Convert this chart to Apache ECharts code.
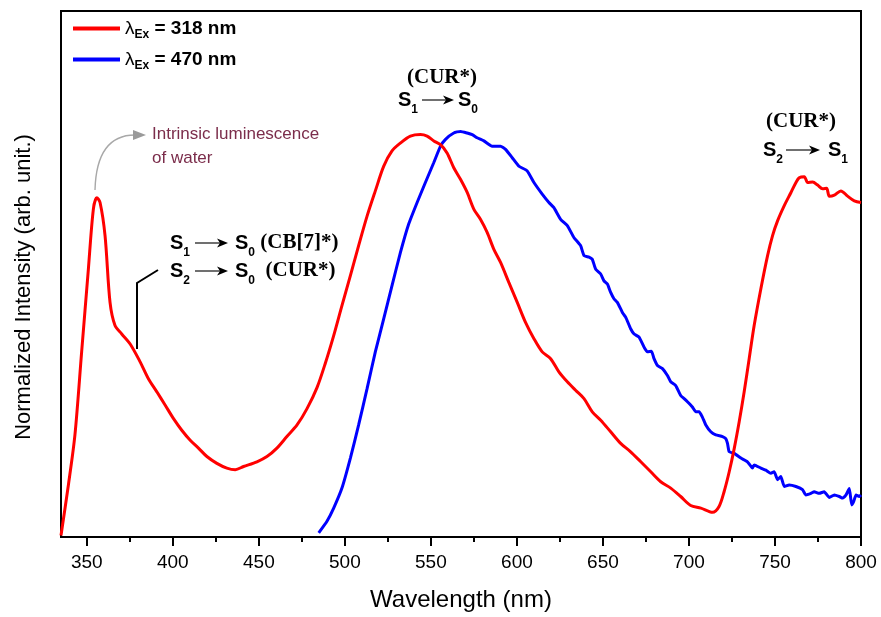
<!DOCTYPE html>
<html><head><meta charset="utf-8">
<script src="https://cdn.jsdelivr.net/npm/echarts@6/dist/echarts.min.js"></script>
<style>html,body{margin:0;padding:0;background:#fff}#c{width:881px;height:617px}</style>
</head><body><div id="c"></div>
<script>
// ---- data ----
const redWavelength = [335, 339.3, 343.1, 347.0, 350.9, 353.8, 355.8, 357.7, 360.6, 363.5,
  366.4, 370.3, 375.2, 381.0, 385.8, 390.7, 395.5, 400.4, 405.2, 410.1,
  414.9, 419.8, 425.6, 431.4, 436.3, 441.1, 448.9, 454.7, 460.5, 466.3,
  472.2, 478.0, 483.8, 488.6, 493.5, 498.3, 503.2, 508.0, 512.9, 517.7,
  522.6, 527.4, 532.3, 538.1, 543.9, 547.8, 551.7, 555.6, 559.4, 563.3,
  567.2, 571.1, 575.0, 578.8, 582.7, 586.6, 590.5, 595.3, 600.2, 605.0,
  609.9, 614.7, 619.6, 624.4, 629.3, 634.1, 639.0, 643.8, 648.7, 654.5,
  660.3, 666.1, 672.0, 677.8, 683.6, 689.4, 695.2, 701.0, 706.9, 713.7,
  717.5, 720.5, 723.4, 726.3, 729.2, 732.1, 735.0, 737.9, 741.8, 745.7,
  748.6, 751.5, 755.4, 759.3, 762.2, 764.1, 767.0, 769.0, 771.9, 774.8,
  777.7, 780.0, 781.6, 784.5, 788.3, 792.2, 796.1, 800];
const redIntensity = [0.3, 9.9, 19.4, 35.2, 50.9, 62.3, 64.5, 63.6, 57.3, 44.6,
  40.2, 38.6, 36.7, 33.3, 30.1, 27.6, 25.1, 22.5, 20.3, 18.4,
  16.9, 15.3, 14.0, 13.1, 12.8, 13.4, 14.3, 15.3, 16.9, 19.1,
  21.3, 24.4, 28.4, 33.0, 38.3, 44.0, 49.7, 55.4, 61.0, 65.8,
  70.5, 73.4, 74.9, 76.2, 76.5, 76.2, 75.3, 74.6, 73.0, 70.2,
  68.0, 65.5, 62.3, 60.4, 57.9, 54.7, 52.2, 48.4, 44.6, 40.8,
  37.7, 35.2, 33.9, 31.4, 29.5, 27.9, 26.3, 23.8, 22.2, 20.0,
  17.8, 16.2, 14.3, 12.4, 10.5, 9.3, 7.7, 6.0, 5.5, 4.7,
  5.8, 8.7, 12.4, 16.8, 21.9, 27.6, 33.9, 40.2, 47.2, 53.5,
  57.3, 60.1, 63.0, 65.5, 67.4, 68.3, 68.5, 67.4, 67.5, 66.9,
  66.2, 66.3, 64.8, 65.0, 65.8, 64.8, 63.9, 63.6];
const blueWavelength = [484.8, 489.6, 493.5, 498.3, 503.2, 508.0, 512.9, 517.7, 522.6, 527.4,
  532.3, 537.1, 542.0, 546.8, 551.7, 555.6, 558.5, 563.3, 567.2, 571.1,
  574.0, 576.9, 580.8, 585.6, 590.5, 593.4, 597.3, 601.1, 606.0, 609.9,
  614.7, 618.6, 621.5, 625.4, 629.3, 633.2, 637.0, 639.0, 641.9, 643.8,
  645.8, 648.7, 650.6, 652.6, 654.5, 656.4, 658.4, 661.3, 663.2, 666.1,
  668.1, 671.0, 673.9, 675.8, 678.2, 679.7, 681.7, 684.6, 687.5, 689.4,
  692.3, 695.2, 697.2, 699.1, 702.0, 704.0, 705.9, 707.8, 709.8, 712.7,
  715.6, 719.5, 721.4, 722.4, 723.4, 726.3, 730.2, 734.0, 736.9, 737.9,
  741.8, 744.7, 747.6, 749.5, 751.5, 753.4, 755.4, 758.3, 762.2, 766.0,
  768.0, 770.9, 772.8, 775.7, 778.6, 781.6, 784.5, 787.4, 789.3, 791.3,
  793.2, 794.6, 795.7, 797.1, 799.0, 800];
const blueIntensity = [0.8, 3.0, 5.5, 9.3, 15.0, 21.3, 28.2, 35.2, 41.5, 47.8,
  54.1, 59.5, 63.6, 67.4, 71.2, 74.3, 75.6, 76.8, 77.1, 76.8,
  76.5, 75.9, 75.3, 74.3, 74.3, 73.7, 72.1, 70.5, 69.6, 67.4,
  65.2, 63.6, 62.6, 60.4, 59.2, 56.9, 55.4, 53.5, 53.2, 52.8,
  50.9, 50.0, 48.7, 48.1, 46.5, 45.3, 44.6, 42.7, 41.8, 39.6,
  38.6, 38.0, 36.1, 35.2, 35.3, 33.9, 32.6, 32.0, 30.7, 29.5,
  28.8, 26.9, 26.3, 25.7, 24.7, 23.8, 23.8, 22.8, 21.3, 20.0,
  19.4, 19.1, 18.7, 17.8, 16.2, 15.9, 15.0, 14.3, 13.1, 13.7,
  13.1, 12.7, 12.1, 12.4, 10.9, 11.5, 9.6, 9.9, 9.6, 9.0,
  8.0, 8.3, 8.6, 8.3, 8.6, 7.5, 8.0, 7.7, 7.4, 8.0,
  9.2, 6.1, 6.7, 8.0, 7.7, 8.0];
const majorTicks = [350, 400, 450, 500, 550, 600, 650, 700, 750, 800];
const minorTicks = [375, 425, 475, 525, 575, 625, 675, 725, 775];
const seriesNames = ['318', '470'];
const xTitle = 'Wavelength (nm)';
const yTitle = 'Normalized Intensity (arb. unit.)';

const zip = (a, b) => a.map((v, i) => [v, b[i]]);

const SANS = 'Liberation Sans, Arial, sans-serif';
const SERIF = 'Liberation Serif, Times New Roman, serif';
const richS = {
  S: { fontFamily: SANS, fontWeight: 'bold', fontSize: 20, lineHeight: 32, verticalAlign: 'middle', fill: '#000', color: '#000' },
  b: { fontFamily: SANS, fontWeight: 'bold', fontSize: 12, lineHeight: 12, verticalAlign: 'bottom', fill: '#000', color: '#000' },
  p: { fontFamily: SERIF, fontWeight: 'bold', fontSize: 21, lineHeight: 32, verticalAlign: 'middle', fill: '#000', color: '#000' }
};
function txt(x, y, text) {
  return { type: 'text', z: 50, style: { x: x, y: y, text: text, rich: richS, verticalAlign: 'middle', align: 'left', fill: '#000' } };
}
function arrow(x1, x2, y) {
  return [
    { type: 'line', z: 50, shape: { x1: x1, y1: y, x2: x2 - 6, y2: y }, style: { stroke: '#222', lineWidth: 1.3 } },
    { type: 'polygon', z: 50, shape: { points: [[x2 - 11, y - 4.5], [x2, y], [x2 - 11, y + 4.5], [x2 - 8, y]] }, style: { fill: '#000' } }
  ];
}

const graphics = [].concat(
  [{ type: 'bezierCurve', z: 50, shape: { x1: 95, y1: 190, cpx1: 96, cpy1: 152, cpx2: 110, cpy2: 135, x2: 135, y2: 135 }, style: { stroke: '#a8a8a8', lineWidth: 1.4, fill: null } },
   { type: 'polygon', z: 50, shape: { points: [[133, 130], [146, 135], [133, 140]] }, style: { fill: '#9a9a9a' } },
   { type: 'text', z: 50, style: { x: 152, y: 134, text: 'Intrinsic luminescence', fontFamily: SANS, fontSize: 17, fill: '#7b2d4b', verticalAlign: 'middle' } },
   { type: 'text', z: 50, style: { x: 152, y: 158, text: 'of water', fontFamily: SANS, fontSize: 17, fill: '#7b2d4b', verticalAlign: 'middle' } },
   { type: 'polyline', z: 50, shape: { points: [[158, 270], [137, 283], [137, 349]] }, style: { stroke: '#000', lineWidth: 2, fill: null } }],
  [txt(170, 243, '{S|S}{b|1}')], arrow(195, 228, 243), [txt(235, 243, '{S|S}{b|0}{p| (CB[7]*)}')],
  [txt(170, 271, '{S|S}{b|2}')], arrow(195, 228, 271), [txt(235, 271, '{S|S}{b|0}{p|  (CUR*)}')],
  [{ type: 'text', z: 50, style: { x: 442, y: 78, text: '(CUR*)', fontFamily: SERIF, fontWeight: 'bold', fontSize: 21, fill: '#000', align: 'center', verticalAlign: 'middle' } }],
  [txt(398, 100, '{S|S}{b|1}')], arrow(422, 454, 100), [txt(458, 100, '{S|S}{b|0}')],
  [{ type: 'text', z: 50, style: { x: 801, y: 122, text: '(CUR*)', fontFamily: SERIF, fontWeight: 'bold', fontSize: 21, fill: '#000', align: 'center', verticalAlign: 'middle' } }],
  [txt(763, 150, '{S|S}{b|2}')], arrow(786, 820, 150), [txt(828, 150, '{S|S}{b|1}')]
);

const chart = echarts.init(document.getElementById('c'), null, { renderer: 'canvas' });
chart.setOption({
  backgroundColor: '#fff',
  animation: false,
  grid: { left: 61, right: 20, top: 11, bottom: 78, show: true, borderColor: '#000', borderWidth: 2, containLabel: false },
  legend: {
    left: 73, top: 19, padding: 0, orient: 'vertical', itemGap: 9, itemWidth: 47, itemHeight: 4, icon: 'rect',
    data: seriesNames,
    formatter: function (n) { return '{l|λ}{s|Ex}{t| = ' + n + ' nm}'; },
    textStyle: {
      rich: {
        l: { fontFamily: SANS, fontSize: 19, lineHeight: 25, verticalAlign: 'middle', color: '#000' },
        s: { fontFamily: SANS, fontWeight: 'bold', fontSize: 12, lineHeight: 12, verticalAlign: 'bottom', color: '#000' },
        t: { fontFamily: SANS, fontWeight: 'bold', fontSize: 19, lineHeight: 25, verticalAlign: 'middle', color: '#000' }
      }
    }
  },
  xAxis: [{
    type: 'value', min: 335, max: 800,
    name: xTitle, nameLocation: 'middle', nameGap: 51,
    nameTextStyle: { fontFamily: SANS, fontSize: 24, color: '#000' },
    axisLine: { show: true, lineStyle: { color: '#000', width: 2 } },
    axisTick: { show: true, customValues: majorTicks, length: 9, lineStyle: { color: '#000', width: 2 } },
    axisLabel: { customValues: majorTicks, fontFamily: SANS, fontSize: 19, color: '#000', margin: 16 },
    splitLine: { show: false }
  }, {
    type: 'value', min: 335, max: 800, position: 'bottom',
    axisLine: { show: false },
    axisTick: { show: true, customValues: minorTicks, length: 5, lineStyle: { color: '#000', width: 2 } },
    axisLabel: { show: false },
    splitLine: { show: false }
  }],
  yAxis: {
    type: 'value', min: 0, max: 100,
    name: yTitle, nameLocation: 'middle', nameGap: 26, nameRotate: 90,
    nameTextStyle: { fontFamily: SANS, fontSize: 22, color: '#000', padding: [0, 26, 0, 0] },
    axisLine: { show: true, lineStyle: { color: '#000', width: 2 } },
    axisTick: { show: false }, axisLabel: { show: false }, splitLine: { show: false }
  },
  series: [
    { name: seriesNames[0], type: 'line', data: zip(redWavelength, redIntensity), symbol: 'none', smooth: 0.3,
      lineStyle: { color: '#ff0000', width: 3 }, itemStyle: { color: '#ff0000' }, z: 3 },
    { name: seriesNames[1], type: 'line', data: zip(blueWavelength, blueIntensity), symbol: 'none', smooth: 0.15,
      lineStyle: { color: '#0000ff', width: 3 }, itemStyle: { color: '#0000ff' }, z: 2 }
  ],
  graphic: graphics
});
</script></body></html>
